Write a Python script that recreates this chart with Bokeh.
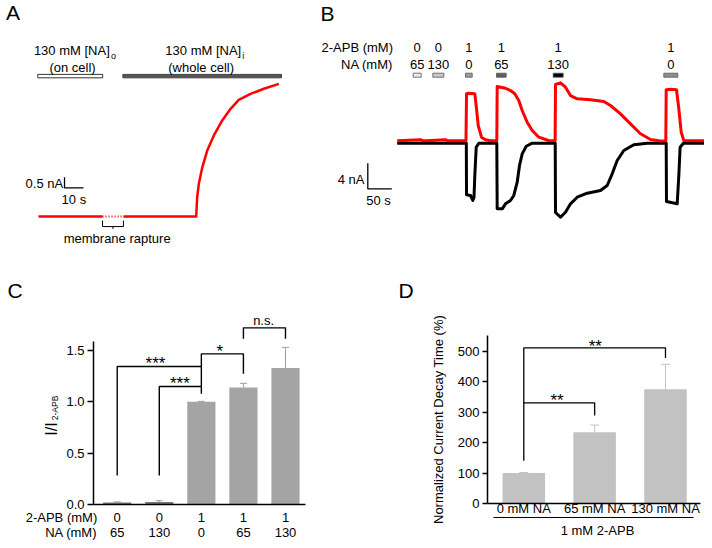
import math
from bokeh.plotting import figure
from bokeh.layouts import column, row
from bokeh.models import (Range1d, FixedTicker, ColumnDataSource, LinearAxis,
                          Whisker, TeeHead, PrintfTickFormatter)
from bokeh.core.properties import value
from bokeh.embed import file_html
from bokeh.resources import INLINE

FONT = "Liberation Sans"
NAN = float("nan")

# ---------------- Panel A data (time s, current nA) ----------------
a_time = [0.0, 33.7, NAN, 44.7, 83.0, 83.5, 84.4, 86.2, 88.8, 92.3, 96.7, 101.1, 105.4, 111.6, 118.6, 126.5]
a_current = [0.0, 0.0, NAN, 0.0, 0.0, 0.90, 1.53, 2.30, 3.08, 3.79, 4.49, 5.03, 5.45, 5.73, 5.97, 6.20]
a_rupture = [33.7, 44.7]
a_on_cell = [-0.4, 33.8]
a_whole_cell = [44.4, 127.9]

# ---------------- Panel B data ----------------
b_red_t = [0, 48.5, 53, 59, 100.6, 105, 111, 143.3, 144.4, 148.5, 161.7, 165.2, 168.8, 175.6, 184,
           194.4, 207.5, 208.3, 225.6, 236, 245, 253.3, 260.4, 270.8, 281.3, 295, 315.2, 329, 329.8,
           340.2, 350.6, 361, 375, 402.7, 430.4, 444.4, 465.2, 486, 506.9, 527.7, 548.5, 559.6, 560.4,
           569.4, 581.9, 586.7, 591.7, 597.1, 645.8]
b_red_i = [0.38, 0.55, 0.38, 0.38, 0.55, 0.38, 0.38, 0.38, 7.72, 7.80, 7.72, 5.42, 2.77, 0.94, 0.53,
           0.38, 0.38, 8.86, 8.59, 8.23, 7.72, 6.67, 5.11, 3.28, 1.98, 0.94, 0.42, 0.38, 9.17,
           9.44, 8.75, 7.45, 6.94, 6.78, 6.52, 5.89, 4.59, 3.03, 1.47, 0.58, 0.34, 0.38, 8.34,
           8.42, 8.34, 5.38, 1.72, 0.42, 0.38]
b_blk_t = [0, 144.0, 144.4, 152.7, 157.5, 160.0, 161.7, 164.6, 170.0, 207.5, 208.3, 218.8, 225.6, 236.0,
           242.9, 250.0, 254.8, 260.4, 268.8, 281.3, 329.2, 329.8, 340.2, 350.6, 361.0, 375.0, 395.8,
           423.5, 437.5, 447.9, 458.3, 472.1, 492.9, 520.8, 560.4, 561.0, 583.3, 586.7, 589.4, 596.3, 645.8]
b_blk_i = [0, 0, -8.06, -8.17, -8.95, -8.48, -5.05, -0.63, 0, 0, -10.25, -10.25, -9.47, -8.95,
           -8.17, -6.09, -3.48, -1.66, -0.47, 0, 0, -10.83, -11.56, -10.78, -9.47, -8.44, -7.81,
           -7.39, -6.61, -4.78, -2.70, -1.14, -0.25, 0, 0, -9.11, -9.47, -5.05, -0.63, 0, 0]
b_app_start = [33.3, 74.2, 142.3, 206.9, 325.0, 555.4]
b_app_end = [50.0, 97.1, 156.3, 227.1, 345.8, 584.6]
b_2apb = ["0", "0", "1", "1", "1", "1"]
b_na = ["65", "130", "0", "65", "130", "0"]
b_app_fill = ["#ececec", "#c9c9c9", "#9b9b9b", "#5e5e5e", "#000000", "#8e8e8e"]

# ---------------- Panel C data ----------------
c_2apb = ["0", "0", "1", "1", "1"]
c_na = ["65", "130", "0", "65", "130"]
c_mean = [0.02, 0.025, 1.00, 1.14, 1.33]
c_err = [0.005, 0.012, 0.004, 0.04, 0.20]
c_colors = ["#767676", "#767676", "#a4a4a4", "#a4a4a4", "#a4a4a4"]
c_yticks = [0, 0.5, 1.0, 1.5]

# ---------------- Panel D data ----------------
d_labels = ["0 mM NA", "65 mM NA", "130 mM NA"]
d_mean = [100, 234, 376]
d_err = [2, 24, 82]
d_yticks = [0, 100, 200, 300, 400, 500]

TXT = dict(text_font=value(FONT), text_color="black")


def bare(width, height, xr, yr):
    p = figure(width=width, height=height, x_range=Range1d(*xr), y_range=Range1d(*yr),
               x_axis_type=None, y_axis_type=None, output_backend="svg", toolbar_location=None,
               min_border=0, outline_line_color=None)
    p.grid.visible = False
    return p


def style_axis(ax, tick_out):
    ax.axis_line_width = 1.5
    ax.axis_line_color = "black"
    ax.major_tick_in = 0
    ax.major_tick_out = tick_out
    ax.minor_tick_in = 0
    ax.minor_tick_out = 0
    ax.major_tick_line_width = 1.3
    ax.major_label_text_font = FONT
    ax.major_label_text_font_size = "13px"
    ax.major_label_text_color = "black"
    ax.major_label_standoff = 3


# ======================= Panel A =======================
pA = bare(318, 270, (-20.0, 147.37), (-2.523, 10.093))
pA.line(a_time, a_current, line_color="red", line_width=2.5, line_join="round")
pA.line(a_rupture, [0, 0], line_color="red", line_width=2, line_dash="1 2")
pA.quad(left=[a_on_cell[0]], right=[a_on_cell[1]], bottom=[6.48], top=[6.64],
        fill_color="white", line_color="#333333", line_width=1)
pA.quad(left=[a_whole_cell[0]], right=[a_whole_cell[1]], bottom=[6.48], top=[6.64],
        fill_color="#555555", line_color="#444444", line_width=1)
mid_r = sum(a_rupture) / 2
pA.multi_line([[a_rupture[0], a_rupture[0], a_rupture[1], a_rupture[1]], [mid_r, mid_r]],
              [[-0.19, -0.47, -0.47, -0.19], [-0.47, -0.58]], line_color="black", line_width=1)
pA.text([41.4], [-1.01], ["membrane rapture"], text_align="center", text_baseline="middle",
        text_font_size="13px", **TXT)
pA.text([37.5, 106.7], [7.76, 7.76], ["130 mM [NA]", "130 mM [NA]"], text_align="right",
        text_baseline="middle", text_font_size="13px", **TXT)
pA.text([38.1, 107.2], [7.50, 7.50], ["o", "i"], text_align="left", text_baseline="middle",
        text_font_size="9px", **TXT)
pA.text([17.9, 85.6], [6.96, 6.96], ["(on cell)", "(whole cell)"], text_align="center",
        text_baseline="middle", text_font_size="13px", **TXT)
pA.multi_line([[13.7, 13.7, 23.7]], [[1.84, 1.34, 1.34]], line_color="black", line_width=1.3)
pA.text([13.0], [1.54], ["0.5 nA"], text_align="right", text_baseline="middle", text_font_size="13px", **TXT)
pA.text([18.6], [0.79], ["10 s"], text_align="center", text_baseline="middle", text_font_size="13px", **TXT)
pA.text([-13.4], [9.51], ["A"], text_align="center", text_baseline="middle", text_font_size="21px", **TXT)

# ======================= Panel B =======================
pB = bare(386, 270, (-163.96, 640.2), (-19.89, 22.30))
pB.line(b_blk_t, b_blk_i, line_color="black", line_width=3, line_join="round")
pB.line(b_red_t, b_red_i, line_color="red", line_width=3, line_join="round")
pB.quad(left=b_app_start, right=b_app_end, bottom=[10.31] * 6, top=[10.94] * 6,
        fill_color=b_app_fill, line_color="#555555", line_width=0.8)
b_mid = [(s + e) / 2 for s, e in zip(b_app_start, b_app_end)]
pB.text(b_mid, [15.0] * 6, b_2apb, text_align="center", text_baseline="middle", text_font_size="13px", **TXT)
pB.text(b_mid, [12.3] * 6, b_na, text_align="center", text_baseline="middle", text_font_size="13px", **TXT)
pB.text([-8.75, -8.75], [15.0, 12.3], ["2-APB (mM)", "NA (mM)"], text_align="right",
        text_baseline="middle", text_font_size="13px", **TXT)
pB.multi_line([[-61.25, -61.25, -11.25]], [[-3.125, -7.125, -7.125]], line_color="black", line_width=1.3)
pB.text([-68.1], [-5.67], ["4 nA"], text_align="right", text_baseline="middle", text_font_size="13px", **TXT)
pB.text([-39.0], [-8.95], ["50 s"], text_align="center", text_baseline="middle", text_font_size="13px", **TXT)
pB.text([-145.2], [20.34], ["B"], text_align="center", text_baseline="middle", text_font_size="21px", **TXT)

# ======================= Panel C =======================
c_x = list(range(1, len(c_mean) + 1))
C_LEFT, C_RIGHT = 0.4367, 5.476
pC = bare(355, 270, (-1.774, 6.664), (-0.3505, 2.2785))
cy = LinearAxis(fixed_location=C_LEFT, ticker=FixedTicker(ticks=c_yticks), bounds=(0, 1.59),
                formatter=PrintfTickFormatter(format="%.1f"))
style_axis(cy, 6)
pC.add_layout(cy, "left")
cx = LinearAxis(fixed_location=0, ticker=FixedTicker(ticks=[]), bounds=(C_LEFT, C_RIGHT))
style_axis(cx, 0)
pC.add_layout(cx, "below")
pC.vbar(x=c_x, top=c_mean, width=0.67, bottom=0, fill_color=c_colors, line_color=None)
c_src = ColumnDataSource(dict(x=c_x, lo=c_mean, hi=[m + e for m, e in zip(c_mean, c_err)]))
pC.add_layout(Whisker(base="x", lower="lo", upper="hi", source=c_src, line_color="#9a9a9a", line_width=1,
                      upper_head=TeeHead(size=7, line_color="#9a9a9a", line_width=1), lower_head=None))
pC.multi_line([[1, 1, 3], [2, 2, 3], [3, 3, 4, 4], [4, 4, 5, 5]],
              [[0.282, 1.344, 1.344], [0.282, 1.149, 1.149], [1.078, 1.467, 1.467, 1.273],
               [1.613, 1.72, 1.72, 1.613]], line_color="black", line_width=1.4)
pC.text([1.91, 2.49, 3.44], [1.371, 1.175, 1.49], ["***", "***", "*"], text_align="center",
        text_baseline="middle", text_font_size="17px", **TXT)
pC.text([4.48], [1.79], ["n.s."], text_align="center", text_baseline="middle", text_font_size="13px", **TXT)
pC.text(c_x, [-0.122] * len(c_x), c_2apb, text_align="center", text_baseline="middle",
        text_font_size="13px", **TXT)
pC.text(c_x, [-0.268] * len(c_x), c_na, text_align="center", text_baseline="middle",
        text_font_size="13px", **TXT)
pC.text([0.525, 0.525], [-0.122, -0.268], ["2-APB (mM)", "NA (mM)"], text_align="right",
        text_baseline="middle", text_font_size="13px", **TXT)
pC.text([-0.569], [0.735], ["I/I"], angle=math.pi / 2, text_align="center", text_baseline="middle",
        text_font_size="16px", **TXT)
pC.text([-0.485], [0.94], ["2-APB"], angle=math.pi / 2, text_align="center", text_baseline="middle",
        text_font_size="8.5px", **TXT)
pC.text([-1.43], [2.079], ["C"], text_align="center", text_baseline="middle", text_font_size="21px", **TXT)

# ======================= Panel D =======================
d_x = list(range(1, len(d_mean) + 1))
D_LEFT, D_RIGHT = 0.4877, 3.494
pD = bare(349, 270, (-1.3754, 3.5505), (-121.7, 766.4))
dy = LinearAxis(fixed_location=D_LEFT, ticker=FixedTicker(ticks=d_yticks), bounds=(0, 551))
style_axis(dy, 5)
dy.axis_label = "Normalized Current Decay Time (%)"
dy.axis_label_text_font = FONT
dy.axis_label_text_font_size = "13px"
dy.axis_label_text_font_style = "normal"
dy.axis_label_text_color = "black"
dy.axis_label_standoff = 9
pD.add_layout(dy, "left")
dx = LinearAxis(fixed_location=0, ticker=FixedTicker(ticks=d_x), bounds=(D_LEFT, D_RIGHT),
                major_label_overrides={i: lab for i, lab in zip(d_x, d_labels)})
style_axis(dx, 0)
dx.major_label_standoff = -3
pD.add_layout(dx, "below")
pD.vbar(x=d_x, top=d_mean, width=0.6, bottom=0, fill_color="#c2c2c2", line_color=None)
d_src = ColumnDataSource(dict(x=d_x, lo=d_mean, hi=[m + e for m, e in zip(d_mean, d_err)]))
pD.add_layout(Whisker(base="x", lower="lo", upper="hi", source=d_src, line_color="#c4c4c4", line_width=1,
                      upper_head=TeeHead(size=9, line_color="#c4c4c4", line_width=1), lower_head=None))
pD.multi_line([[1, 1, 3, 3], [1, 2, 2]], [[141, 512, 512, 479], [331, 331, 289.5]],
              line_color="black", line_width=1.3)
pD.text([2.01, 1.47], [517.6, 339], ["**", "**"], text_align="center", text_baseline="middle",
        text_font_size="17px", **TXT)
pD.line([0.572, 3.395], [-46, -46], line_color="black", line_width=1)
pD.text([2.04], [-89], ["1 mM 2-APB"], text_align="center", text_baseline="middle",
        text_font_size="13px", **TXT)
pD.text([-0.663], [699], ["D"], text_align="center", text_baseline="middle", text_font_size="21px", **TXT)

layout = column(row(pA, pB), row(pC, pD))
open("out.html", "w").write(file_html(layout, INLINE))
